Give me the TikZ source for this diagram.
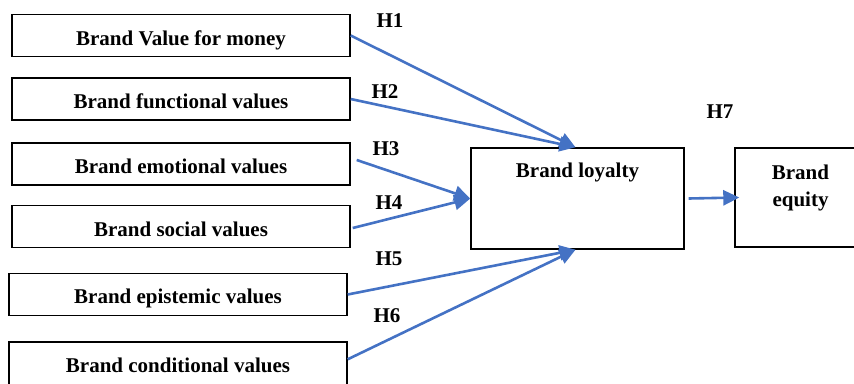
\documentclass[tikz,border=0pt]{standalone}
\usepackage{fontspec}
\setmainfont{Liberation Serif}
\usetikzlibrary{arrows.meta,calc}
\definecolor{arrowblue}{RGB}{68,114,196}
\begin{document}
\begin{tikzpicture}[x=1pt,y=-1pt,
  font=\fontsize{21}{25}\selectfont\bfseries,
  srcbox/.style={draw=black,line width=1.4pt,minimum width=338pt,minimum height=42pt,inner sep=0pt,text height=19pt,text depth=0pt},
  hyplabel/.style={inner sep=0pt},
  link/.style={draw=arrowblue,line width=2.6pt,-{Triangle[length=16pt,width=15pt]}}]
\useasboundingbox (0,0) rectangle (854,383);
\node[srcbox] (b1) at (181,35.5) {Brand Value for money};
\node[srcbox] (b2) at (181,99) {Brand functional values};
\node[srcbox] (b3) at (181,164) {Brand emotional values};
\node[srcbox] (b4) at (181,226.5) {Brand social values};
\node[srcbox,text height=17pt] (b5) at (178,294.5) {Brand epistemic values};
\node[srcbox,minimum height=48pt,text depth=7pt] (b6) at (178,366) {Brand conditional values};
\node[draw=black,line width=1.4pt,minimum width=213pt,minimum height=101pt,inner sep=0pt,
  label={[anchor=north,yshift=-15pt,inner sep=0pt]north:Brand loyalty}] (bl) at (577.5,198.5) {};
\node[draw=black,line width=1.4pt,minimum width=125pt,minimum height=99pt,inner sep=0pt,
  label={[anchor=north,yshift=-17pt,inner sep=0pt,align=center,font=\fontsize{21}{27}\selectfont\bfseries,xshift=3pt]north:Brand\\equity}] (be) at (797.5,197.5) {};
\node[hyplabel] (h1) at (390,21) {H1};
\node[hyplabel] (h2) at (385,92) {H2};
\node[hyplabel] (h3) at (386,149) {H3};
\node[hyplabel] (h4) at (389,203) {H4};
\node[hyplabel] (h5) at (389,259) {H5};
\node[hyplabel] (h6) at (387,316) {H6};
\node[hyplabel] (h7) at (720,112) {H7};
\draw[link] (b1.east) -- ($(bl.north)+(-2,0)$);
\draw[link] (b2.east) -- ($(bl.north)+(-2,0)$);
\draw[link] ($(b3.east)+(6,-4)$) -- (bl.west);
\draw[link] ($(b4.east)+(2,1.5)$) -- (bl.west);
\draw[link] (b5.east) -- ($(bl.south)+(-2,0)$);
\draw[link] ($(b6.north east)+(0,18)$) -- ($(bl.south)+(-2,0)$);
\draw[link] ($(bl.east)+(4,0)$) -- ($(be.west)+(5,0)$);
\end{tikzpicture}
\end{document}
